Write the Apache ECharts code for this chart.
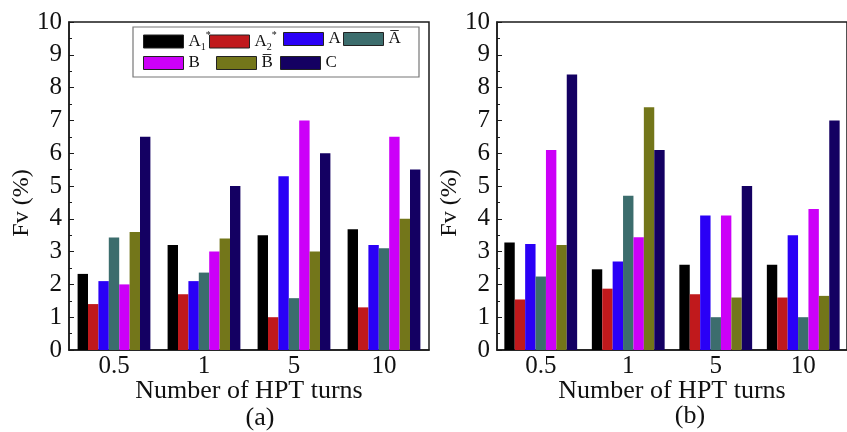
<!DOCTYPE html>
<html>
<head>
<meta charset="utf-8">
<script src="https://cdn.jsdelivr.net/npm/echarts@6/dist/echarts.min.js"></script>
<style>
  html, body { margin: 0; padding: 0; background: #fff; overflow: hidden; }
  #chart { width: 847px; height: 432px; }
</style>
</head>
<body>
<div id="chart"></div>
<script>
// Categories: number of HPT turns
const turns = ['0.5', '1', '5', '10'];

// Series names (phase labels)
const seriesNames = ['A1*', 'A2*', 'A', 'A\u0305', 'B', 'B\u0305', 'C'];
const seriesColors = ['#000000', '#c0191c', '#2a00f6', '#3c6d6d', '#cc00f8', '#73761a', '#140062'];

// Panel (a): Fv (%) per phase, one value per turn count
const fvA_A1 = [2.32, 3.2, 3.5, 3.68];
const fvA_A2 = [1.4, 1.7, 1.0, 1.3];
const fvA_A = [2.1, 2.1, 5.3, 3.2];
const fvA_Abar = [3.43, 2.36, 1.58, 3.1];
const fvA_B = [2.0, 3.0, 7.0, 6.5];
const fvA_Bbar = [3.6, 3.4, 3.0, 4.0];
const fvA_C = [6.5, 5.0, 6.0, 5.5];

// Panel (b)
const fvB_A1 = [3.28, 2.46, 2.6, 2.6];
const fvB_A2 = [1.54, 1.87, 1.7, 1.6];
const fvB_A = [3.23, 2.7, 4.1, 3.5];
const fvB_Abar = [2.24, 4.7, 1.0, 1.0];
const fvB_B = [6.1, 3.44, 4.1, 4.3];
const fvB_Bbar = [3.2, 7.4, 1.6, 1.65];
const fvB_C = [8.4, 6.1, 5.0, 7.0];

const panelA = [fvA_A1, fvA_A2, fvA_A, fvA_Abar, fvA_B, fvA_Bbar, fvA_C];
const panelB = [fvB_A1, fvB_A2, fvB_A, fvB_Abar, fvB_B, fvB_Bbar, fvB_C];

const yTicks = { min: 0, max: 10, interval: 1 };

const FONT = '"Liberation Serif", "Times New Roman", serif';
const INK = '#1a1a1a';
const TXT = '#111';

const grids = [
  { left: 69, top: 22, right: 418, bottom: 82 },
  { left: 497, top: 22, right: -10, bottom: 82 }
];

function xAxes(gridIndex) {
  return [
    {
      type: 'category', gridIndex, data: turns,
      axisLine: { lineStyle: { color: INK, width: 1.5 } },
      axisTick: { inside: true, length: 4, lineStyle: { color: INK } },
      axisLabel: { fontFamily: FONT, fontSize: 25, color: TXT, margin: 4 },
      name: 'Number of HPT turns', nameLocation: 'middle', nameGap: 28,
      nameMoveOverlap: false,
      nameTextStyle: { fontFamily: FONT, fontSize: 26, color: TXT }
    },
    {
      // second axis only supplies the small ticks at group centres
      type: 'category', gridIndex, data: turns, position: 'bottom',
      axisLine: { show: false },
      axisTick: { inside: true, length: 4, alignWithLabel: true, lineStyle: { color: INK } },
      axisLabel: { show: false }
    }
  ];
}

function yAxis(gridIndex) {
  return {
    type: 'value', gridIndex, min: yTicks.min, max: yTicks.max, interval: yTicks.interval,
    axisLine: { show: true, lineStyle: { color: INK, width: 1.5 } },
    axisTick: { show: true, inside: true, length: 5, lineStyle: { color: INK } },
    minorTick: { show: true, splitNumber: 2, length: 3, lineStyle: { color: INK } },
    splitLine: { show: false },
    axisLabel: { fontFamily: FONT, fontSize: 25, color: TXT, margin: 7 },
    name: 'Fv (%)', nameLocation: 'middle', nameGap: 35,
    nameMoveOverlap: false,
    nameTextStyle: { fontFamily: FONT, fontSize: 24, color: TXT, padding: [0, 34, 0, 0] }
  };
}

const series = [];
[panelA, panelB].forEach((panel, p) => {
  panel.forEach((vals, i) => {
    series.push({
      type: 'bar', name: seriesNames[i], data: vals,
      xAxisIndex: p * 2, yAxisIndex: p,
      barWidth: 10.4, barGap: '0%',
      itemStyle: { color: seriesColors[i], borderWidth: 0 }
    });
  });
});

// Legend label rich text: A with sub/superscripts, overlined letters
const rich = {
  m: { fontFamily: FONT, fontSize: 17, color: TXT, lineHeight: 22 },
  sub: { fontFamily: FONT, fontSize: 10, color: TXT, lineHeight: 22, verticalAlign: 'bottom' },
  sup: { fontFamily: FONT, fontSize: 10, color: TXT, lineHeight: 22, verticalAlign: 'top' }
};
function legendLabel(name) {
  if (name === 'A1*') return '{m|A}{sub|1}{sup|*}';
  if (name === 'A2*') return '{m|A}{sub|2}{sup|*}';
  return '{m|' + name + '}';
}

const legendPos = [
  [143, 30.5], [209, 30.5], [283, 30.5], [343, 30.5],
  [143, 54.5], [216, 54.5], [280, 54.5]
];
const legends = seriesNames.map((n, i) => ({
  data: [n], left: legendPos[i][0], top: legendPos[i][1], padding: 0,
  icon: 'rect', itemWidth: 40, itemHeight: 13, itemGap: 0,
  formatter: legendLabel,
  itemStyle: { borderColor: '#222', borderWidth: 1 },
  textStyle: { rich: rich, fontFamily: FONT, fontSize: 17, color: TXT },
  selectedMode: false
}));

const chart = echarts.init(document.getElementById('chart'), null, { renderer: 'canvas' });
chart.setOption({
  backgroundColor: '#fff',
  animation: false,
  grid: grids.map(g => Object.assign({ show: true, borderColor: INK, borderWidth: 1.5 }, g)),
  xAxis: [...xAxes(0), ...xAxes(1)],
  yAxis: [yAxis(0), yAxis(1)],
  legend: legends,
  title: [
    { text: '(a)', left: 255, top: 400, textAlign: 'center', textStyle: { fontFamily: FONT, fontSize: 26, fontWeight: 'normal', color: TXT } },
    { text: '(b)', left: 685, top: 398, textAlign: 'center', textStyle: { fontFamily: FONT, fontSize: 26, fontWeight: 'normal', color: TXT } }
  ],
  graphic: [{
    type: 'rect', z: 1,
    shape: { x: 133, y: 27, width: 286, height: 50 },
    style: { fill: '#fff', stroke: '#777', lineWidth: 1.2 }
  }],
  series: series
});
</script>
</body>
</html>
